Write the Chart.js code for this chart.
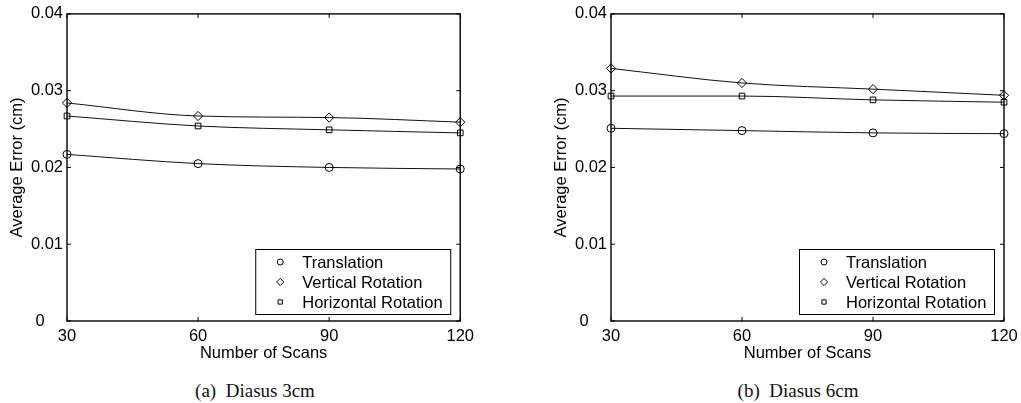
<!DOCTYPE html>
<html>
<head>
<meta charset="utf-8">
<script src="https://cdn.jsdelivr.net/npm/chart.js@4.4.0/dist/chart.umd.min.js"></script>
<style>
    html, body { margin: 0; padding: 0; background: #fff; overflow: hidden; }
    body { width: 1021px; height: 403px; position: relative; }
    .plot { position: absolute; top: 0; width: 480px; height: 365px; }
    .caption { position: absolute; top: 380px; font-family: 'Liberation Serif', serif; font-size: 19px; color: #111; white-space: pre; transform: translateX(-50%); }
</style>
</head>
<body>
<div class="plot" style="left:0px"><canvas id="chart_a"></canvas></div>
<div class="plot" style="left:544px"><canvas id="chart_b"></canvas></div>
<div class="caption" style="left:255px">(a)  Diasus 3cm</div>
<div class="caption" style="left:798px">(b)  Diasus 6cm</div>
<script>
const scans = [30, 60, 90, 120];
const yTicks = [0, 0.01, 0.02, 0.03, 0.04];
const seriesNames = ['Translation', 'Vertical Rotation', 'Horizontal Rotation'];

// (a) Diasus 3cm
const aTranslation = [0.0217, 0.0205, 0.0200, 0.0198];
const aVertical = [0.0284, 0.0267, 0.0265, 0.0259];
const aHorizontal = [0.0267, 0.0254, 0.0249, 0.0245];

// (b) Diasus 6cm
const bTranslation = [0.0251, 0.0248, 0.0245, 0.0244];
const bVertical = [0.0329, 0.0310, 0.0302, 0.0294];
const bHorizontal = [0.0293, 0.0293, 0.0288, 0.0285];

const FONT = 'Liberation Sans, Arial, sans-serif';
const markerStyles = ['circle', 'rectRot', 'rect'];
const markerSizes = [4, 4.6, 4];

// matlab style box with inward ticks
const boxPlugin = {
    id: 'box',
    afterDatasetsDraw(chart) {
        const { ctx, chartArea: a, scales } = chart;
        ctx.save();
        ctx.strokeStyle = '#000';
        ctx.lineWidth = 1.4;
        ctx.strokeRect(a.left, a.top, a.right - a.left, a.bottom - a.top);
        ctx.lineWidth = 1;
        ctx.beginPath();
        scans.forEach(v => {
            const x = scales.x.getPixelForValue(v);
            ctx.moveTo(x, a.bottom); ctx.lineTo(x, a.bottom - 4);
            ctx.moveTo(x, a.top); ctx.lineTo(x, a.top + 4);
        });
        yTicks.forEach(v => {
            const y = scales.y.getPixelForValue(v);
            ctx.moveTo(a.left, y); ctx.lineTo(a.left + 4, y);
            ctx.moveTo(a.right, y); ctx.lineTo(a.right - 4, y);
        });
        ctx.stroke();
        ctx.restore();
    }
};

// legend box in the lower right corner
const insideLegend = {
    id: 'insideLegend',
    afterDraw(chart) {
        const { ctx, chartArea: a } = chart;
        const w = 195, h = 65;
        const left = a.right - 10 - w, top = a.bottom - 7 - h;
        ctx.save();
        ctx.fillStyle = '#fff';
        ctx.fillRect(left, top, w, h);
        ctx.strokeStyle = '#000';
        ctx.lineWidth = 1;
        ctx.strokeRect(left + 0.5, top + 0.5, w, h);
        ctx.font = '16.5px ' + FONT;
        ctx.textBaseline = 'middle';
        seriesNames.forEach((name, i) => {
            const y = top + 13 + i * 20;
            ctx.fillStyle = '#fff';
            Chart.helpers.drawPoint(ctx, {
                pointStyle: markerStyles[i], radius: markerSizes[i] - 1, rotation: 0, borderWidth: 1
            }, left + 25, y);
            ctx.fillStyle = '#000';
            ctx.fillText(name, left + 47, y + 1);
        });
        ctx.restore();
    }
};

function makeDatasets(values) {
    return values.map((vals, i) => ({
        label: seriesNames[i],
        data: scans.map((s, j) => ({ x: s, y: vals[j] })),
        borderColor: '#111',
        borderWidth: 1,
        backgroundColor: 'rgba(0,0,0,0)',
        pointStyle: markerStyles[i],
        pointRadius: markerSizes[i],
        pointBorderColor: '#000',
        pointBorderWidth: 1,
        pointBackgroundColor: 'rgba(0,0,0,0)',
        cubicInterpolationMode: 'monotone',
        clip: false
    }));
}

function makeChart(id, values, padRight) {
    return new Chart(document.getElementById(id), {
        type: 'line',
        data: { datasets: makeDatasets(values) },
        plugins: [boxPlugin, insideLegend],
        options: {
            responsive: true,
            maintainAspectRatio: false,
            animation: false,
            layout: { padding: { top: 11, right: padRight, left: 0, bottom: 0 } },
            plugins: {
                legend: { display: false },
                tooltip: { enabled: false }
            },
            scales: {
                x: {
                    type: 'linear',
                    min: 30,
                    max: 120,
                    afterBuildTicks: s => { s.ticks = scans.map(v => ({ value: v })); },
                    grid: { display: false, drawTicks: false },
                    border: { display: false },
                    ticks: { color: '#000', padding: 6, maxRotation: 0, font: { family: FONT, size: 16.5 } },
                    title: { display: true, text: 'Number of Scans', color: '#000', padding: { top: 0, bottom: 2 }, font: { family: FONT, size: 16.5 } },
                    afterFit: s => { s.height = 44; }
                },
                y: {
                    min: 0,
                    max: 0.04,
                    afterBuildTicks: s => { s.ticks = yTicks.map(v => ({ value: v })); },
                    grid: { display: false, drawTicks: false },
                    border: { display: false },
                    ticks: {
                        color: '#000', padding: 4, font: { family: FONT, size: 16.5 },
                        callback: v => v === 0 ? '0    ' : v.toFixed(2)
                    },
                    title: { display: true, text: 'Average Error (cm)', color: '#000', padding: { top: 8, bottom: 0 }, font: { family: FONT, size: 16.5 } },
                    afterFit: s => { s.width = 67; }
                }
            }
        }
    });
}

makeChart('chart_a', [aTranslation, aVertical, aHorizontal], 18);
makeChart('chart_b', [bTranslation, bVertical, bHorizontal], 20);
</script>
</body>
</html>
